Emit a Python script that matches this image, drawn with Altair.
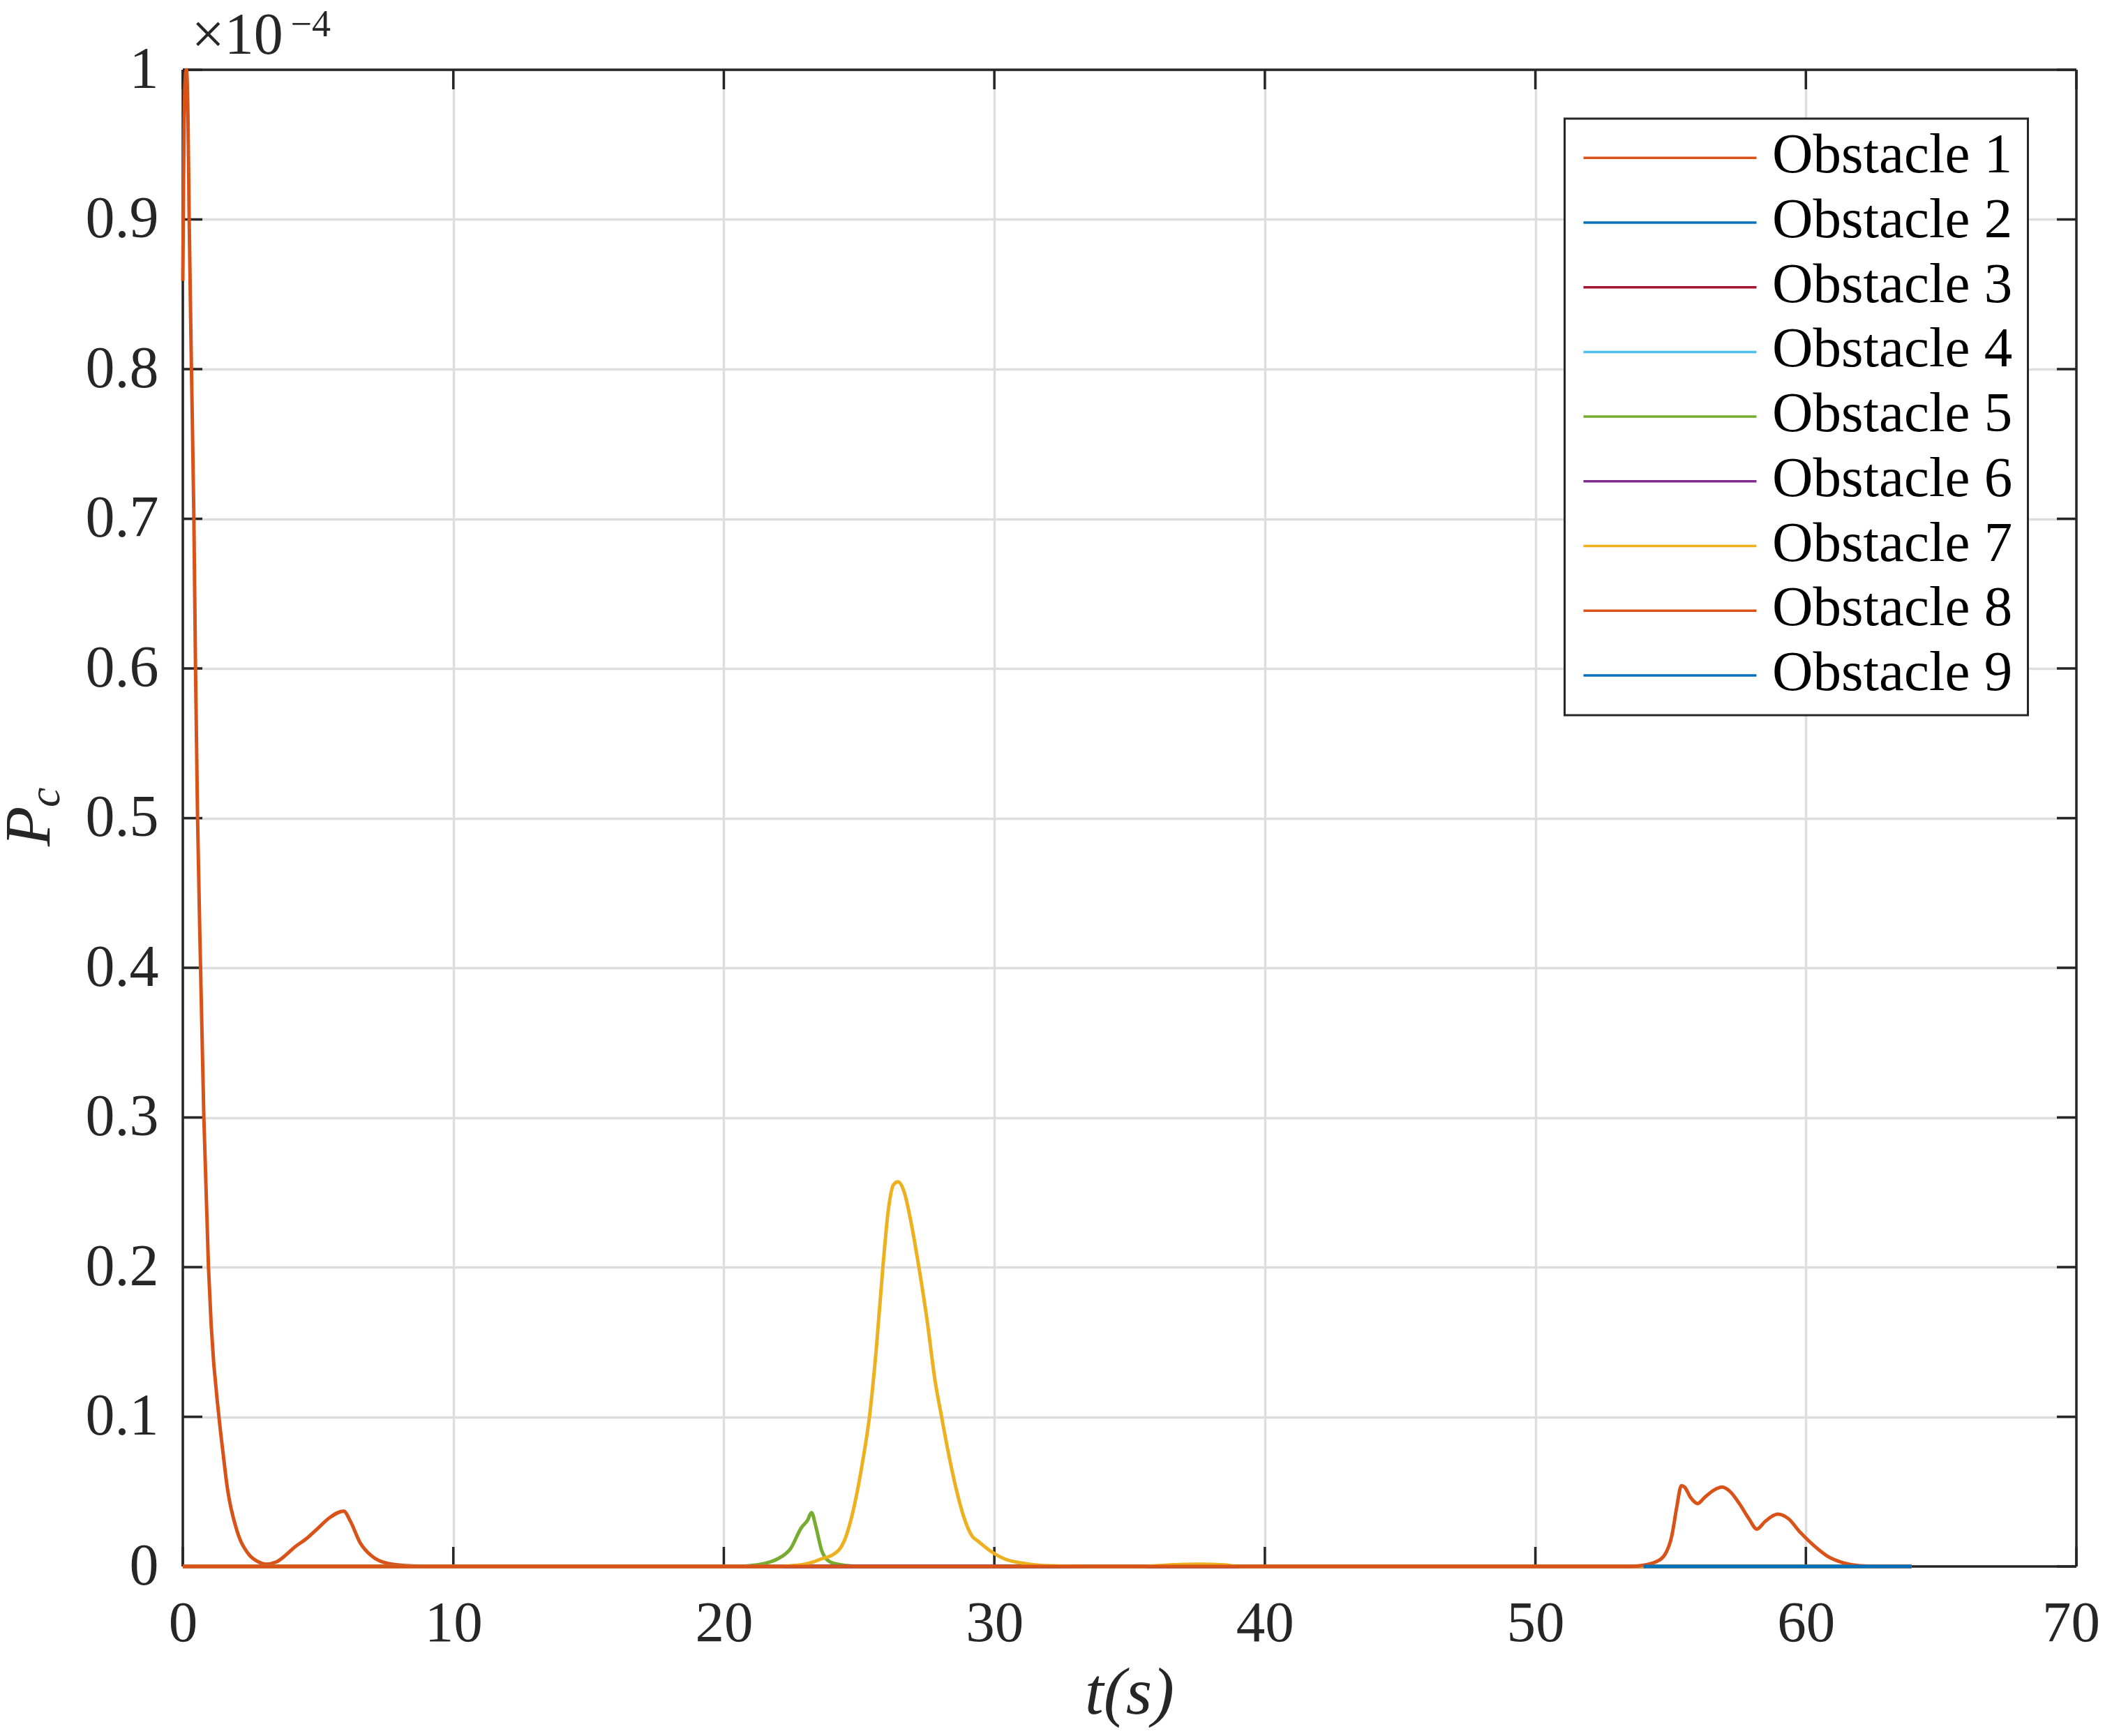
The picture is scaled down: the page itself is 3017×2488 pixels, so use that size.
import altair as alt
import pandas as pd

# ---------------- data (values in units of 1e-4) ----------------
names = [f"Obstacle {i}" for i in range(1, 10)]
colors = ["#D95319", "#0072BD", "#A2142F", "#4DBEEE", "#77AC30",
          "#7E2F8E", "#EDB120", "#D95319", "#0072BD"]

t1 = [0, 0.03, 0.08, 0.134, 0.19, 0.236, 0.32, 0.41, 0.47, 0.546, 0.657, 0.778,
      0.949, 1.05, 1.336, 1.48, 1.65, 2.0, 2.42, 2.8, 3.07, 3.46, 3.8, 4.14,
      4.6, 5.0, 5.43, 5.95, 6.2, 6.55, 6.98, 7.58, 8.5, 9.5, 63.9]
p1 = [0.859, 0.93, 0.99, 1.0, 0.97, 0.9, 0.8, 0.7, 0.6, 0.5, 0.4, 0.3,
      0.2, 0.161, 0.1, 0.077, 0.052, 0.024, 0.0085, 0.003, 0.0015, 0.003, 0.0075, 0.013,
      0.019, 0.0256, 0.0326, 0.037, 0.030, 0.016, 0.007, 0.002, 0.0003, 0, 0]

t_zero = [0, 63.9]
p_zero = [0, 0]

t5 = [0, 20.5, 21.0, 21.5, 21.98, 22.47, 22.87, 23.1, 23.24, 23.41, 23.61,
      23.85, 24.2, 24.55, 25.0, 63.9]
p5 = [0, 0, 0.0006, 0.002, 0.005, 0.012, 0.026, 0.031, 0.036, 0.026, 0.011,
      0.004, 0.0015, 0.0006, 0, 0]

t7 = [0, 22.0, 22.5, 23.0, 23.3, 23.6, 24.05, 24.45, 24.84, 25.14, 25.39, 25.63,
      25.88, 26.08, 26.27, 26.44, 26.67, 26.92, 27.21, 27.51, 27.81, 28.05, 28.30,
      28.60, 28.89, 29.19, 29.39, 29.88, 30.38, 30.87, 31.46, 32.3, 33.5, 35.5,
      36.5, 37.6, 38.5, 39.1, 63.9]
p7 = [0, 0, 0.0005, 0.0015, 0.003, 0.005, 0.008, 0.017, 0.042, 0.071, 0.101, 0.144,
      0.200, 0.238, 0.255, 0.257, 0.250, 0.230, 0.200, 0.165, 0.124, 0.100, 0.076,
      0.051, 0.032, 0.020, 0.017, 0.010, 0.005, 0.0027, 0.0012, 0.0003, 0, 0,
      0.001, 0.0015, 0.001, 0, 0]

t8 = [0, 53.5, 53.85, 54.45, 54.79, 55.05, 55.22, 55.40, 55.52, 55.74, 56.0,
      56.25, 56.60, 56.90, 57.2, 57.54, 57.89, 58.19, 58.49, 58.96, 59.35, 59.78,
      60.29, 60.81, 61.41, 62.0, 62.8, 63.9]
p8 = [0, 0, 0.0005, 0.003, 0.008, 0.021, 0.039, 0.054, 0.053, 0.046, 0.042,
      0.046, 0.051, 0.053, 0.050, 0.042, 0.032, 0.025, 0.030, 0.035, 0.032, 0.023,
      0.014, 0.0067, 0.0023, 0.0005, 0, 0]

t9 = [54.0, 63.9]
p9 = [0, 0]

x_ticks = [0, 10, 20, 30, 40, 50, 60, 70]
y_ticks = [0, 0.1, 0.2, 0.3, 0.4, 0.5, 0.6, 0.7, 0.8, 0.9, 1.0]

series = [(t1, p1), (t_zero, p_zero), (t_zero, p_zero), (t_zero, p_zero),
          (t5, p5), (t_zero, p_zero), (t7, p7), (t8, p8), (t9, p9)]

# ---------------- style ----------------
W, H = 2714, 2145
FONT = "Liberation Serif"
INK = "#262626"
GRID = "#dedede"
TICK_LEN = 28

xs = alt.Scale(domain=[0, 70], nice=False, zero=False)
ys = alt.Scale(domain=[0, 1], nice=False, zero=False)

x_axis = alt.Axis(values=x_ticks, grid=True, gridColor=GRID, gridWidth=3.5,
                  ticks=False, tickSize=0, domain=False, labelFont=FONT,
                  labelFontSize=83, labelColor=INK, labelPadding=40, title=None,
                  labelAngle=0, labelFlush=False, labelOverlap=False, format="d",
                  labelOffset={"condition": {"test": "datum.value == 70", "value": -8},
                               "value": 0})
y_axis = alt.Axis(values=y_ticks, grid=True, gridColor=GRID, gridWidth=3.5,
                  ticks=False, tickSize=0, domain=False, labelFont=FONT,
                  labelFontSize=84, labelColor=INK, labelPadding=35, title=None,
                  labelFlush=False, labelOverlap=False, format="~g")


def X(field):
    return alt.X(field, scale=xs, axis=x_axis)


def Y(field):
    return alt.Y(field, scale=ys, axis=y_axis)


dummy = pd.DataFrame({"d": [0]})
layers = []

# frame
layers.append(alt.Chart(dummy).mark_rule(color=INK, strokeWidth=3.5).encode(
    x=alt.value(0), y=alt.value(0), y2=alt.value(H)))
layers.append(alt.Chart(dummy).mark_rule(color=INK, strokeWidth=3.5).encode(
    x=alt.value(W), y=alt.value(0), y2=alt.value(H)))
layers.append(alt.Chart(dummy).mark_rule(color=INK, strokeWidth=3.5).encode(
    y=alt.value(0), x=alt.value(0), x2=alt.value(W)))
layers.append(alt.Chart(dummy).mark_rule(color=INK, strokeWidth=3.5).encode(
    y=alt.value(H), x=alt.value(0), x2=alt.value(W)))

# inward ticks (placed through the scales)
xt = pd.DataFrame({"v": x_ticks})
yt = pd.DataFrame({"v": y_ticks})
layers.append(alt.Chart(xt).mark_rule(color=INK, strokeWidth=3.5).encode(
    x=X("v:Q"), y=alt.value(H), y2=alt.value(H - TICK_LEN)))
layers.append(alt.Chart(xt).mark_rule(color=INK, strokeWidth=3.5).encode(
    x=X("v:Q"), y=alt.value(0), y2=alt.value(TICK_LEN)))
layers.append(alt.Chart(yt).mark_rule(color=INK, strokeWidth=3.5).encode(
    y=Y("v:Q"), x=alt.value(0), x2=alt.value(TICK_LEN)))
layers.append(alt.Chart(yt).mark_rule(color=INK, strokeWidth=3.5).encode(
    y=Y("v:Q"), x=alt.value(W - TICK_LEN), x2=alt.value(W)))

# data series, drawn in order 1..9
for (t, p), c in zip(series, colors):
    df = pd.DataFrame({"t": t, "p": p})
    layers.append(alt.Chart(df).mark_line(color=c, strokeWidth=5,
                                          interpolate="monotone").encode(
        x=X("t:Q"), y=Y("p:Q")))

# legend
LX0, LX1, LY0, LY1 = 1980.5, 2644.5, 70, 925
layers.append(alt.Chart(dummy).mark_rect(fill="white", stroke=INK, strokeWidth=3).encode(
    x=alt.value(LX0), x2=alt.value(LX1), y=alt.value(LY0), y2=alt.value(LY1)))
ROW0, DROW = 126.3, 92.7
for i, (nm, c) in enumerate(zip(names, colors)):
    ry = ROW0 + DROW * i
    layers.append(alt.Chart(dummy).mark_rule(color=c, strokeWidth=3.5).encode(
        x=alt.value(LX0 + 27), x2=alt.value(LX0 + 275), y=alt.value(ry)))
    layers.append(alt.Chart(dummy).mark_text(
        font=FONT, fontSize=81, color="#000000", align="left",
        baseline="alphabetic").encode(
        x=alt.value(LX0 + 297.5), y=alt.value(ry + 21), text=alt.value(nm)))

# multiplier
layers.append(alt.Chart(dummy).mark_text(
    font=FONT, fontSize=84, color=INK, align="left", baseline="alphabetic").encode(
    x=alt.value(12.5), y=alt.value(-23), text=alt.value("×10")))
layers.append(alt.Chart(dummy).mark_text(
    font=FONT, fontSize=54, color=INK, align="left", baseline="alphabetic").encode(
    x=alt.value(154.5), y=alt.value(-48), text=alt.value("−4")))

# axis titles
layers.append(alt.Chart(dummy).mark_text(
    font=FONT, fontSize=96, fontStyle="italic", color=INK, align="center",
    baseline="alphabetic").encode(
    x=alt.value(W / 2), y=alt.value(2356), text=alt.value("t(s)")))
layers.append(alt.Chart(dummy).mark_text(
    font=FONT, fontSize=94, fontStyle="italic", color=INK, align="left",
    baseline="alphabetic", angle=270).encode(
    x=alt.value(-191.5), y=alt.value(1113), text=alt.value("P")))
layers.append(alt.Chart(dummy).mark_text(
    font=FONT, fontSize=64, fontStyle="italic", color=INK, align="left",
    baseline="alphabetic", angle=270).encode(
    x=alt.value(-177), y=alt.value(1057), text=alt.value("c")))

chart = alt.layer(*layers).properties(
    width=W, height=H,
    padding={"left": 254, "top": 92, "right": 33, "bottom": 235},
    autosize=alt.AutoSizeParams(type="none"),
).configure_view(stroke="transparent")

chart.save("out.html", embed_options={"renderer": "svg", "actions": False})
